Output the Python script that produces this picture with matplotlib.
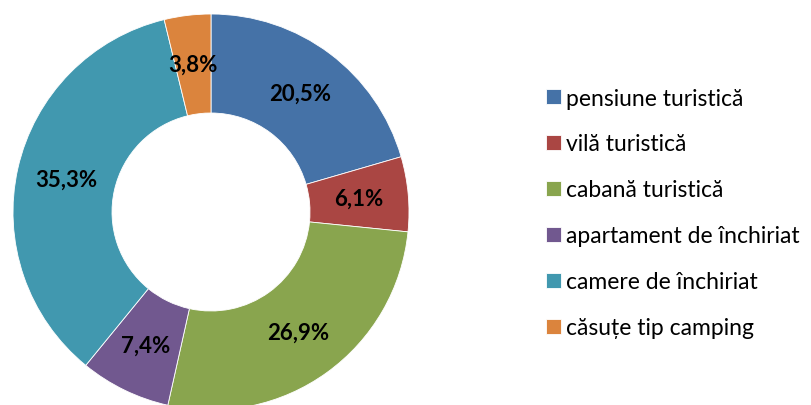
import matplotlib.pyplot as plt

labels = ['pensiune turistică', 'vilă turistică', 'cabană turistică',
          'apartament de închiriat', 'camere de închiriat', 'căsuțe tip camping']
shares = [20.5, 6.1, 26.9, 7.4, 35.3, 3.8]
colors = ['#4572A7', '#AA4643', '#89A54E', '#71588F', '#4198AF', '#DB843D']

W, H = 811, 406
fig = plt.figure(figsize=(W / 100, H / 100), dpi=100, facecolor='white')

# donut centre at (211, 213) px, outer radius 198 px
cx, cy, R = 211, 213, 198
ax = fig.add_axes([(cx - R) / W, (H - cy - R) / H, 2 * R / W, 2 * R / H])

wedges, _, autotexts = ax.pie(
    shares, colors=colors, startangle=90, counterclock=False,
    radius=1, autopct=lambda p: f'{p:.1f}%'.replace('.', ','),
    pctdistance=0.75, frame=True,
    wedgeprops={'width': 0.5, 'edgecolor': 'white', 'linewidth': 0.6})
ax.set_xlim(-1, 1)
ax.set_ylim(-1, 1)
ax.axis('off')

for t in autotexts:
    t.set_fontfamily('Lato')
    t.set_fontweight('bold')
    t.set_fontsize(16)
    t.set_color('black')

fig.legend(wedges, labels, loc='center left', bbox_to_anchor=(525 / W, 0.473),
           frameon=False, prop={'family': 'Lato', 'size': 16.5},
           handlelength=0.65, handleheight=0.65, handletextpad=0.22,
           labelspacing=1.09)

fig.savefig('out.png', dpi=100, facecolor='white')
